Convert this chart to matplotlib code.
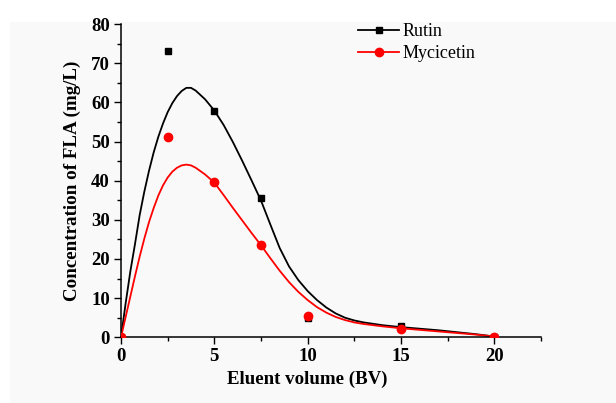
import matplotlib

matplotlib.use("Agg")
import matplotlib.pyplot as plt
from matplotlib.lines import Line2D
from matplotlib.patches import Rectangle
from matplotlib.ticker import MultipleLocator

# measured points
volume = [0, 2.5, 5, 7.5, 10, 15, 20]
rutin = [0, 73.1, 57.9, 35.7, 5.0, 2.8, 0.2]
myricetin = [0, 51.2, 39.6, 23.5, 5.4, 2.2, 0.2]

# fitted curves
fit_x = [0, 0.25, 0.5, 0.75, 1.0, 1.25, 1.5, 1.75, 2.0, 2.25, 2.5, 2.75, 3.0, 3.25, 3.5,
         3.75, 4.0, 4.5, 5.0, 5.5, 6.0, 6.5, 7.0, 7.5, 8.0, 8.5, 9.0, 9.5, 10.0, 10.5,
         11.0, 11.5, 12.0, 12.5, 13, 14, 15, 16, 17, 18, 19, 20]
rutin_fit = [0, 8.7, 16.8, 23.8, 31.2, 37.2, 42.5, 47.2, 51.2, 54.6, 57.5, 59.8, 61.6, 62.9, 63.7,
             63.7, 63.0, 60.8, 57.9, 54.2, 49.8, 45.0, 40.0, 34.9, 28.8, 22.8, 18.1, 14.6, 11.8, 9.5,
             7.6, 6.1, 5.0, 4.3, 3.8, 3.1, 2.6, 2.2, 1.8, 1.3, 0.8, 0.2]
myr_fit = [0, 5.2, 10.4, 15.6, 20.6, 25.2, 29.4, 33.0, 36.2, 38.8, 40.8, 42.3, 43.3, 43.9, 44.1,
           43.9, 43.3, 41.6, 39.5, 36.3, 33.0, 29.8, 26.6, 23.5, 20.2, 17.0, 14.1, 11.6, 9.5, 7.7,
           6.3, 5.2, 4.4, 3.8, 3.4, 2.8, 2.3, 1.9, 1.5, 1.1, 0.7, 0.2]

plt.rcParams["font.family"] = ["Liberation Serif", "DejaVu Serif"]

fig = plt.figure(figsize=(6.16, 4.03), dpi=100)
fig.patches.append(Rectangle((10 / 616, 0), 1, (403 - 22) / 403, transform=fig.transFigure,
                             facecolor="#f9f9f9", edgecolor="none", zorder=-5))
ax = fig.add_axes([0.1964, 0.163, 0.682, 0.7774])
ax.set_zorder(2)
ax.set_facecolor("none")

ax.plot(fit_x, rutin_fit, color="black", lw=1.3, zorder=2, solid_joinstyle="round")
ax.plot(fit_x, myr_fit, color="red", lw=1.3, zorder=2, solid_joinstyle="round")
ax.plot(volume, rutin, "s", color="black", ms=5, ls="none", zorder=3)
ax.plot(volume, myricetin, "o", color="red", ms=6, ls="none", zorder=4)

ax.set_xlim(0, 22.5)
ax.set_ylim(0, 80)
ax.xaxis.set_major_locator(MultipleLocator(5))
ax.xaxis.set_minor_locator(MultipleLocator(2.5))
ax.yaxis.set_major_locator(MultipleLocator(10))
ax.yaxis.set_minor_locator(MultipleLocator(5))
ax.tick_params(which="major", direction="out", length=5, width=1, labelsize=13.5, pad=3)
ax.tick_params(which="minor", direction="out", length=3, width=1)
for lab in ax.get_xticklabels() + ax.get_yticklabels():
    lab.set_fontweight("bold")

for side in ("top", "right"):
    ax.spines[side].set_visible(False)
for side in ("left", "bottom"):
    ax.spines[side].set_linewidth(1.1)

ax.set_xlabel("Eluent volume (BV)", fontsize=13.6, fontweight="bold")
ax.xaxis.set_label_coords(10 / 22.5, -0.105)
ax.set_ylabel("Concentration of FLA (mg/L)", fontsize=13.7, fontweight="bold", labelpad=7)

handles = [
    Line2D([], [], color="black", marker="s", ms=5, lw=1.3),
    Line2D([], [], color="red", marker="o", ms=6, lw=1.3),
]
ax.legend(handles, ["Rutin", "Mycicetin"], loc="upper left", bbox_to_anchor=(0.525, 1.055),
          frameon=False, fontsize=13, handlelength=2.3, handletextpad=0.2, labelspacing=0.3)

fig.savefig("out.png", dpi=100)
